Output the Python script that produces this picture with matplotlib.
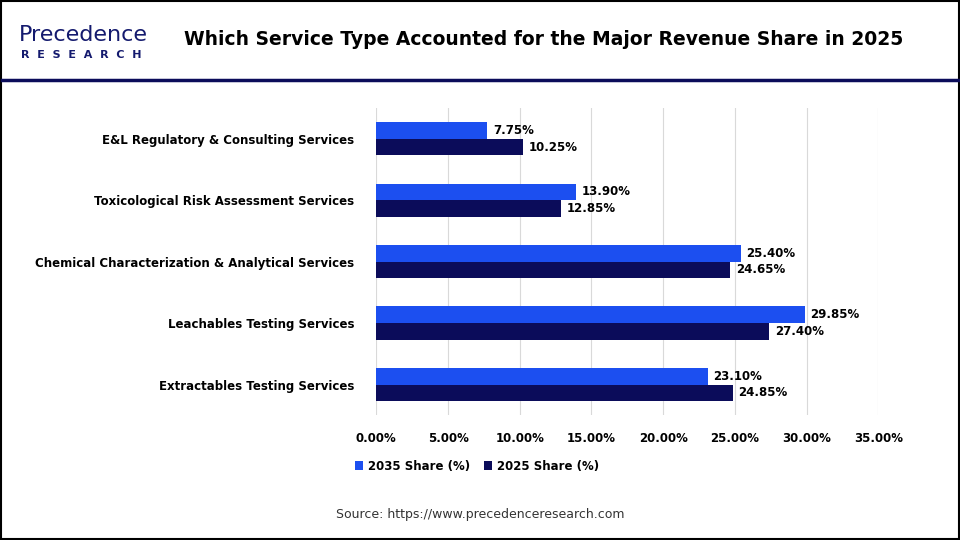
import numpy as np
import matplotlib.pyplot as plt
from matplotlib.patches import Rectangle
from matplotlib.lines import Line2D

categories = ['E&L Regulatory & Consulting Services',
              'Toxicological Risk Assessment Services',
              'Chemical Characterization & Analytical Services',
              'Leachables Testing Services',
              'Extractables Testing Services']
share_2035 = [7.75, 13.90, 25.40, 29.85, 23.10]
share_2025 = [10.25, 12.85, 24.65, 27.40, 24.85]
xticks = [0, 5, 10, 15, 20, 25, 30, 35]

c35 = '#1C4FF0'
c25 = '#0B0C5A'

fig = plt.figure(figsize=(9.6, 5.4), dpi=100)
fig.patches.append(Rectangle((0.001, 0.001), 0.998, 0.998, transform=fig.transFigure,
                             fill=False, ec='black', lw=1.5))
fig.add_artist(Line2D([0.002, 0.998], [0.852, 0.852], color='#0B0C5A', lw=2.5))

fig.text(0.192, 0.926, 'Which Service Type Accounted for the Major Revenue Share in 2025',
         fontsize=13.5, fontweight='bold', va='center', ha='left')
fig.text(0.02, 0.936, 'Precedence', fontsize=16, color='#141A6E', va='center', ha='left')
fig.text(0.022, 0.898, 'R  E  S  E  A  R  C  H', fontsize=8, fontweight='bold',
         color='#141A6E', va='center', ha='left')

ax = fig.add_axes([0.392, 0.231, 0.523, 0.569])
y = np.arange(len(categories))
h = 0.27
ax.barh(y - h / 2, share_2035, height=h, color=c35, label='2035 Share (%)')
ax.barh(y + h / 2, share_2025, height=h, color=c25, label='2025 Share (%)')
for i in range(len(categories)):
    ax.text(share_2035[i] + 0.4, y[i] - h / 2, f'{share_2035[i]:.2f}%', va='center',
            fontsize=8.5, fontweight='bold')
    ax.text(share_2025[i] + 0.4, y[i] + h / 2, f'{share_2025[i]:.2f}%', va='center',
            fontsize=8.5, fontweight='bold')

ax.set_xlim(0, 35)
ax.set_ylim(len(categories) - 0.5, -0.5)
ax.set_xticks(xticks)
ax.set_xticklabels([f'{v:.2f}%' for v in xticks], fontsize=8.5, fontweight='bold')
ax.set_yticks(y)
ax.set_yticklabels(categories, fontsize=8.5, fontweight='bold')
ax.tick_params(length=0, pad=16)
ax.tick_params(axis='x', pad=12)
ax.grid(axis='x', color='#d9d9d9', lw=0.8)
ax.set_axisbelow(True)
for s in ax.spines.values():
    s.set_visible(False)

ax.legend(loc='upper center', bbox_to_anchor=(0.2, -0.11), ncol=2, frameon=False,
          prop={'weight': 'bold', 'size': 8.5}, handlelength=0.7,
          handleheight=0.7, columnspacing=1.2, handletextpad=0.4)

fig.text(0.5, 0.04, 'Source: https://www.precedenceresearch.com', ha='center',
         fontsize=9, color='#333333')

fig.savefig('out.png', dpi=100)
